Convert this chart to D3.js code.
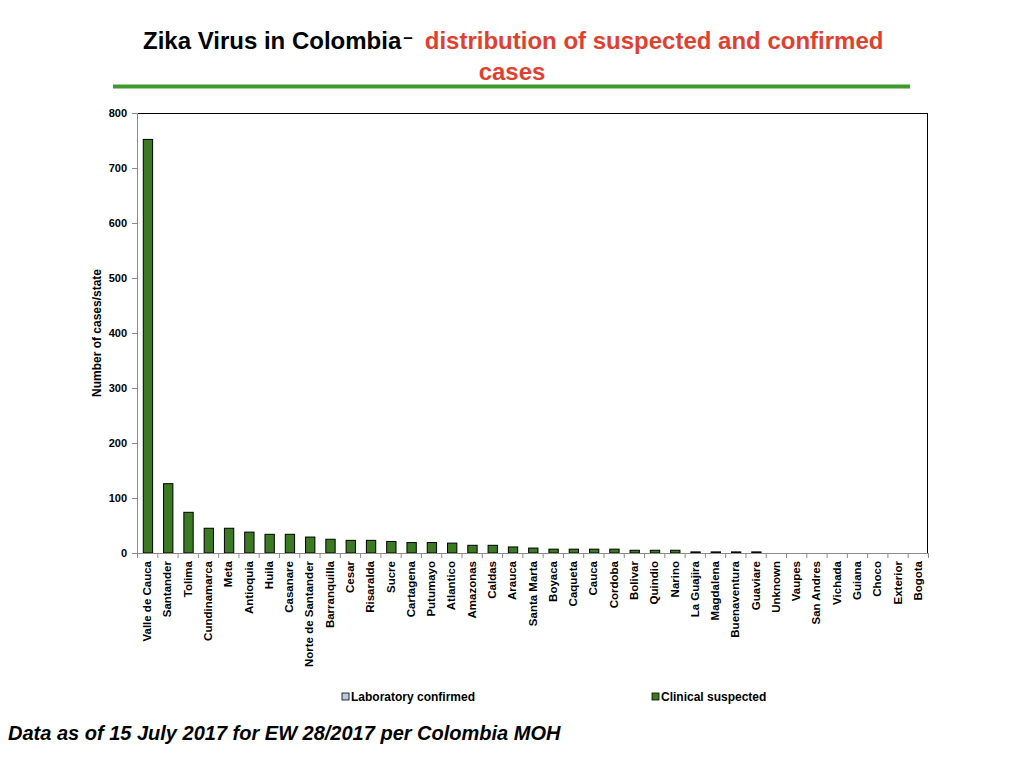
<!DOCTYPE html>
<html>
<head>
<meta charset="utf-8">
<script src="https://cdn.jsdelivr.net/npm/d3@7"></script>
<style>
  body { margin: 0; background: #fff; }
  svg { display: block; font-family: "Liberation Sans", Arial, sans-serif; }
  .axis text { font-size: 11px; font-weight: bold; fill: #000; }
  .x-axis text { font-size: 11.5px; }
  .axis path, .axis line { stroke: #8c8c8c; }
</style>
</head>
<body>
<div id="chart"></div>
<script>
// data
const states = [
  "Valle de Cauca", "Santander", "Tolima", "Cundinamarca", "Meta", "Antioquia", "Huila",
  "Casanare", "Norte de Santander", "Barranquilla", "Cesar", "Risaralda", "Sucre",
  "Cartagena", "Putumayo", "Atlantico", "Amazonas", "Caldas", "Arauca", "Santa Marta",
  "Boyaca", "Caqueta", "Cauca", "Cordoba", "Bolivar", "Quindio", "Narino", "La Guajira",
  "Magdalena", "Buenaventura", "Guaviare", "Unknown", "Vaupes", "San Andres", "Vichada",
  "Guiana", "Choco", "Exterior", "Bogota"
];
const labConfirmed = [
  0, 0, 0, 0, 0, 0, 0, 0, 0, 0, 0, 0, 0, 0, 0, 0, 0, 0, 0, 0,
  0, 0, 0, 0, 0, 0, 0, 0, 0, 0, 0, 0, 0, 0, 0, 0, 0, 0, 0
];
const clinicalSuspected = [
  752, 126, 74, 45, 45, 38, 34, 34, 29, 25, 23, 23, 21, 19, 19, 18, 14, 14, 11, 9,
  7, 7, 7, 7, 5, 5, 5, 2, 2, 2, 2, 0, 0, 0, 0, 0, 0, 0, 0
];
const yTicks = [0, 100, 200, 300, 400, 500, 600, 700, 800];
const seriesNames = ["Laboratory confirmed", "Clinical suspected"];
const seriesColors = ["#b8cce4", "#3b7a22"];

const W = 1024, H = 768;
const margin = { top: 113, right: 96, bottom: 215, left: 137 };
const width = W - margin.left - margin.right;
const height = H - margin.top - margin.bottom;

const svg = d3.select("#chart").append("svg")
  .attr("width", W)
  .attr("height", H);

// title
const title = svg.append("text")
  .attr("x", 143)
  .attr("y", 49)
  .style("font-weight", "bold")
  .style("font-size", "24px");
title.append("tspan").attr("fill", "#000").text("Zika Virus in Colombia");
title.append("tspan").attr("fill", "#000").attr("dy", -6).attr("dx", 2).style("font-size", "17px").text("–");
title.append("tspan").attr("fill", "#e0412f").attr("dy", 6).attr("dx", 12).text("distribution of suspected and confirmed");

svg.append("text")
  .attr("x", 512)
  .attr("y", 80)
  .attr("text-anchor", "middle")
  .attr("fill", "#e0412f")
  .style("font-weight", "bold")
  .style("font-size", "24px")
  .text("cases");

svg.append("line")
  .attr("x1", 113).attr("x2", 910)
  .attr("y1", 86.5).attr("y2", 86.5)
  .attr("stroke", "#3d9a2c")
  .attr("stroke-width", 4);

const g = svg.append("g")
  .attr("transform", `translate(${margin.left}, ${margin.top})`);

// scales
const x = d3.scaleBand().domain(states).range([0, width]).padding(0);
const y = d3.scaleLinear().domain([0, 800]).range([height, 0]);
const x1 = d3.scaleBand().domain(seriesNames).range([-0.15 * x.bandwidth(), 0.77 * x.bandwidth()]).padding(0);

// frame: top and right in black
g.append("line").attr("x1", 0).attr("x2", width).attr("y1", 0.5).attr("y2", 0.5).attr("stroke", "#000");
g.append("line").attr("x1", width - 0.5).attr("x2", width - 0.5).attr("y1", 0).attr("y2", height).attr("stroke", "#000");

// bars
const rows = states.map((s, i) => ({ state: s, values: [labConfirmed[i], clinicalSuspected[i]] }));
g.selectAll(".bar")
  .data(rows.filter((d) => d.values[1] > 0))
  .enter()
  .append("rect")
  .attr("class", "bar")
  .attr("x", (d) => x(d.state) + x1(seriesNames[1]))
  .attr("width", x1.bandwidth())
  .attr("y", (d) => y(d.values[1]))
  .attr("height", (d) => height - y(d.values[1]))
  .attr("fill", seriesColors[1])
  .attr("stroke", "#000")
  .attr("stroke-width", 1);

// axes
const yAxis = d3.axisLeft(y).tickValues(yTicks).tickSize(5).tickPadding(5);
const yG = g.append("g").attr("class", "axis").call(yAxis);
yG.select(".domain").attr("d", `M0.5,${height}V0`);

const xAxis = d3.axisBottom(x).tickSize(0).tickPadding(8);
const xG = g.append("g").attr("class", "axis x-axis").attr("transform", `translate(0, ${height})`).call(xAxis);
xG.select(".domain").attr("d", `M0,0.5H${width}`);
xG.selectAll(".tick text")
  .attr("transform", "rotate(-90)")
  .attr("text-anchor", "end")
  .attr("x", -8)
  .attr("y", 0)
  .attr("dy", "0.35em");
// tick marks between categories
xG.selectAll(".sep")
  .data(states.concat(["end"]))
  .enter()
  .append("line")
  .attr("class", "sep")
  .attr("x1", (d, i) => i * x.step() + 0.5)
  .attr("x2", (d, i) => i * x.step() + 0.5)
  .attr("y1", 0)
  .attr("y2", 5);

// y axis label
g.append("text")
  .attr("transform", `translate(-36, ${height / 2}) rotate(-90)`)
  .attr("text-anchor", "middle")
  .style("font-size", "12px")
  .style("font-weight", "bold")
  .text("Number of cases/state");

// legend
const legendX = [205, 515];
const legend = g.selectAll(".legend")
  .data(seriesNames)
  .enter()
  .append("g")
  .attr("class", "legend")
  .attr("transform", (d, i) => `translate(${legendX[i]}, 585)`);
legend.append("rect")
  .attr("x", 0).attr("y", -5)
  .attr("width", 7).attr("height", 7)
  .attr("fill", (d, i) => seriesColors[i])
  .attr("stroke", "#000")
  .attr("stroke-width", 0.8);
legend.append("text")
  .attr("x", 9)
  .attr("y", 3)
  .style("font-size", "12px")
  .style("font-weight", "bold")
  .text((d) => d);

// footer note
svg.append("text")
  .attr("x", 8)
  .attr("y", 740)
  .style("font-size", "20px")
  .style("font-weight", "bold")
  .style("font-style", "italic")
  .text("Data as of 15 July 2017 for EW 28/2017 per Colombia MOH");
</script>
</body>
</html>
